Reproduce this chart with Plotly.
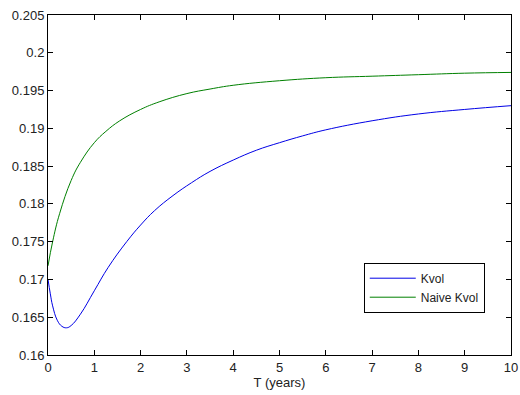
import plotly.graph_objects as go

t_kvol = [0, 0.05, 0.1, 0.2, 0.3, 0.4, 0.5, 0.7, 1.0, 1.3, 1.7, 2.0, 2.3, 2.7, 3.1, 3.5, 4.0, 4.5, 5.0, 5.5, 6.0, 7.0, 8.0, 9.0, 10.0]
kvol = [0.1700, 0.1681, 0.1665, 0.1646, 0.1638, 0.1636, 0.1639, 0.1654, 0.1685, 0.1716, 0.1750, 0.1772, 0.1791, 0.1811, 0.1828, 0.1843, 0.1858, 0.1871, 0.1881, 0.1890, 0.1898, 0.1910, 0.1919, 0.1925, 0.1930]

t_naive = [0, 0.1, 0.25, 0.5, 0.7, 1.0, 1.25, 1.55, 2.0, 2.4, 3.0, 3.5, 4.0, 5.0, 6.0, 7.0, 8.0, 9.0, 10.0]
naive_kvol = [0.1718, 0.1750, 0.1787, 0.1831, 0.1855, 0.1881, 0.1896, 0.1910, 0.1925, 0.1935, 0.1946, 0.1952, 0.1957, 0.1963, 0.1967, 0.1969, 0.1971, 0.1973, 0.1974]

x_ticks = [0, 1, 2, 3, 4, 5, 6, 7, 8, 9, 10]
x_ticklabels = ["0", "1", "2", "3", "4", "5", "6", "7", "8", "9", "10"]
y_ticks = [0.16, 0.165, 0.17, 0.175, 0.18, 0.185, 0.19, 0.195, 0.2, 0.205]
y_ticklabels = ["0.16", "0.165", "0.17", "0.175", "0.18", "0.185", "0.19", "0.195", "0.2", "0.205"]

FONT = "Liberation Sans, Arial"

fig = go.Figure()
fig.add_trace(go.Scatter(x=t_kvol, y=kvol, mode="lines", name="Kvol",
                         line=dict(color="#0000e6", width=1, shape="spline", smoothing=1.2)))
fig.add_trace(go.Scatter(x=t_naive, y=naive_kvol, mode="lines", name="Naive Kvol",
                         line=dict(color="#008000", width=1, shape="spline", smoothing=1.2)))

axis_common = dict(showgrid=False, zeroline=False, showline=True, linecolor="black", linewidth=1,
                   mirror="ticks", ticks="inside", ticklen=5, tickcolor="black", automargin=False,
                   tickfont=dict(family=FONT, size=13, color="#222"))

fig.update_xaxes(range=[0, 10], tickvals=x_ticks, ticktext=x_ticklabels,
                 title=dict(text="T (years)", font=dict(family=FONT, size=13, color="#222"), standoff=2),
                 **axis_common)
fig.update_yaxes(range=[0.16, 0.205], tickvals=y_ticks, ticktext=y_ticklabels, **axis_common)

fig.update_layout(
    width=520, height=395,
    margin=dict(l=48, r=9, t=15, b=40, autoexpand=False),
    paper_bgcolor="white", plot_bgcolor="white",
    showlegend=True,
    legend=dict(x=0.682, y=0.2715, xanchor="left", yanchor="top",
                bgcolor="white", bordercolor="black", borderwidth=1,
                font=dict(family=FONT, size=12, color="#222"),
                tracegroupgap=0, itemwidth=46),
)

fig.write_html("out.html", config={"displayModeBar": False},
               post_script="document.body.style.margin='0';document.body.style.padding='0';")
